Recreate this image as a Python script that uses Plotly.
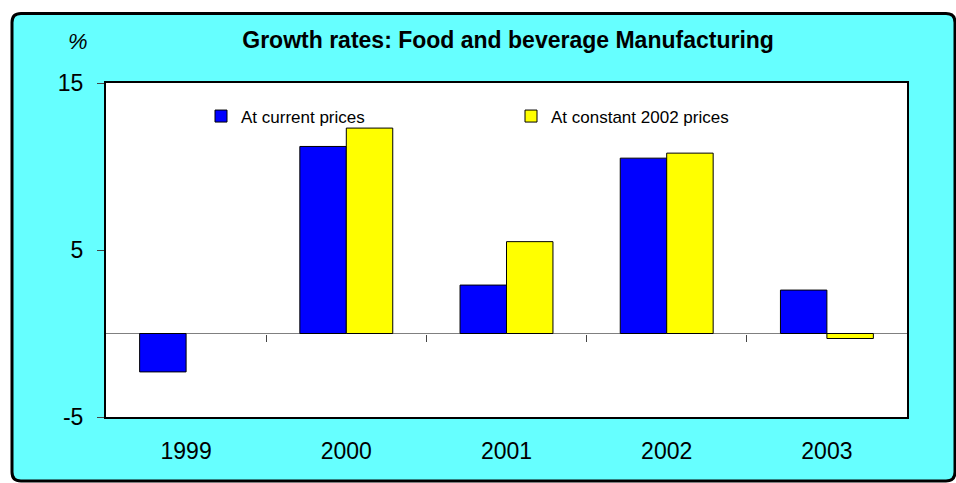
import plotly.graph_objects as go

# Annual growth rates (%) of food and beverage manufacturing
years = ["1999", "2000", "2001", "2002", "2003"]
current_prices = [-2.3, 11.2, 2.9, 10.5, 2.6]
constant_2002_prices = [None, 12.3, 5.5, 10.8, -0.3]
series_names = ["At current prices", "At constant 2002 prices"]
y_ticks = [-5, 5, 15]
y_tick_text = ["-5", "5", "15"]

W, H = 956, 483
ML, MR, MT, MB = 106, 49, 83, 66
PW, PH = W - ML - MR, H - MT - MB
FONT = "Liberation Sans"
CYAN = "#66FFFF"


def px_to_paper(x, y):
    return (x - ML) / PW, (H - MB - y) / PH


def rounded_box(x0, y0, x1, y1, r):
    pts = [
        ("M", x0 + r, y0), ("L", x1 - r, y0), ("Q", x1, y0, x1, y0 + r),
        ("L", x1, y1 - r), ("Q", x1, y1, x1 - r, y1),
        ("L", x0 + r, y1), ("Q", x0, y1, x0, y1 - r),
        ("L", x0, y0 + r), ("Q", x0, y0, x0 + r, y0),
    ]
    out = []
    for p in pts:
        if p[0] == "Q":
            a = px_to_paper(p[1], p[2])
            b = px_to_paper(p[3], p[4])
            out.append(f"Q{a[0]:.5f},{a[1]:.5f} {b[0]:.5f},{b[1]:.5f}")
        else:
            a = px_to_paper(p[1], p[2])
            out.append(f"{p[0]}{a[0]:.5f},{a[1]:.5f}")
    return " ".join(out) + " Z"


fig = go.Figure()
fig.add_trace(go.Bar(
    x=years, y=current_prices, name=series_names[0],
    marker=dict(color="#0000FF", line=dict(color="#000000", width=1)),
))
fig.add_trace(go.Bar(
    x=years, y=constant_2002_prices, name=series_names[1],
    marker=dict(color="#FFFF00", line=dict(color="#000000", width=1)),
))

# Category divider ticks sitting on the zero line
n = len(years)
divider_pos = [i + 0.5 for i in range(n - 1)]
fig.add_trace(go.Scatter(
    x=divider_pos, y=[0] * len(divider_pos), xaxis="x2", yaxis="y",
    mode="markers", marker=dict(opacity=0), showlegend=False, hoverinfo="skip",
))

zero_pos = (0 - y_ticks[0]) / (y_ticks[-1] - y_ticks[0])

fig.update_layout(
    width=W, height=H,
    margin=dict(l=ML, r=MR, t=MT, b=MB, pad=0),
    paper_bgcolor="white",
    plot_bgcolor="white",
    barmode="group",
    bargap=0.42,
    bargroupgap=0,
    font=dict(family=FONT, color="black"),
    title=dict(
        text="Growth rates: Food and beverage Manufacturing",
        font=dict(family=FONT, size=23, weight="bold", color="black"),
        x=0.502, xref="paper", xanchor="center",
        y=1 - 40 / H, yref="container", yanchor="middle",
    ),
    xaxis=dict(
        type="category", categoryorder="array", categoryarray=years,
        range=[-0.5, n - 0.5],
        showline=True, linecolor="black", linewidth=2, mirror=True,
        ticks="", showgrid=False,
        tickfont=dict(family=FONT, size=23, color="black"),
        ticklabelstandoff=12,
    ),
    xaxis2=dict(
        overlaying="x", anchor="free", position=zero_pos,
        range=[-0.5, n - 0.5], showgrid=False, zeroline=False,
        showline=False, showticklabels=False,
        tickvals=divider_pos, ticks="outside", ticklen=7,
        tickcolor="#444444", tickwidth=1,
    ),
    yaxis=dict(
        range=[y_ticks[0], y_ticks[-1]], tickvals=y_ticks, ticktext=y_tick_text,
        showline=True, linecolor="black", linewidth=2, mirror=True,
        ticks="outside", ticklen=7, tickcolor="#444444", tickwidth=1,
        showgrid=False,
        zeroline=True, zerolinecolor="#808080", zerolinewidth=1,
        tickfont=dict(family=FONT, size=23, color="black"),
        ticklabelstandoff=9,
    ),
    legend=dict(
        orientation="h",
        x=(201 - ML) / PW, xanchor="left",
        y=px_to_paper(0, 98.5)[1], yanchor="top",
        bgcolor="rgba(0,0,0,0)",
        font=dict(family=FONT, size=17, color="black"),
        itemwidth=30,
        entrywidth=265, entrywidthmode="pixels",
        traceorder="normal",
    ),
    shapes=[
        dict(
            type="path", xref="paper", yref="paper", layer="below",
            path=rounded_box(12, 13.5, 955, 481, 9),
            fillcolor=CYAN, line=dict(color="black", width=3),
        ),
        dict(
            type="rect", xref="paper", yref="paper", layer="below",
            x0=0, x1=1, y0=0, y1=1,
            fillcolor="white", line=dict(width=0),
        ),
    ],
    annotations=[
        dict(
            text="%", xref="paper", yref="paper",
            x=px_to_paper(77.5, 0)[0], y=px_to_paper(0, 42)[1],
            xanchor="center", yanchor="middle", showarrow=False,
            font=dict(family=FONT, size=22, style="italic", color="black"),
        ),
    ],
)

fig.write_html("out.html")
